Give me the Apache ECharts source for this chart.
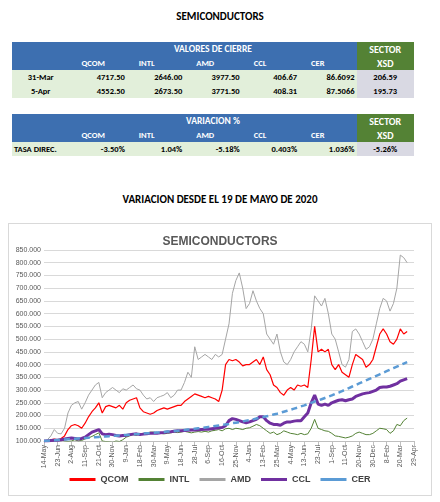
<!DOCTYPE html>
<html><head><meta charset="utf-8">
<script src="https://cdn.jsdelivr.net/npm/echarts@6/dist/echarts.min.js"></script>
<style>
body{margin:0;background:#fff;font-family:Calibri,"Liberation Sans",Carlito,Arial,sans-serif;}
.t{position:absolute;font-weight:bold;color:#000;font-size:11px;text-align:center;width:440px;left:0;}
table{position:absolute;left:12px;border-collapse:collapse;font-size:8.5px;font-weight:bold;width:402px;table-layout:fixed;}
td{height:14px;padding:0 2px;white-space:nowrap;}
.h{background:#3d6fb0;color:#fff;}
.hl{text-align:left;padding-left:12px;}
.s{background:#548235;color:#fff;text-align:center;font-size:10px;}
.d{background:#e2efda;text-align:right;}
.g{background:#d9d9e3;text-align:center;}
#chart{position:absolute;left:8px;top:223px;width:422px;height:271px;border:1px solid #d9d9d9;}
</style></head><body>
<div class="t" style="top:10px">SEMICONDUCTORS</div>
<table id="t1" style="top:42px"></table>
<table id="t2" style="top:114px"></table>
<div class="t" style="top:193px">VARIACION DESDE EL 19 DE MAYO DE 2020</div>
<div id="chart"></div>
<script>
const tickers=["QCOM","INTL","AMD","CCL","CER"];
const closeRows=[["31-Mar","4717.50","2646.00","3977.50","406.67","86.6092","206.59"],["5-Apr","4552.50","2673.50","3771.50","408.31","87.5066","195.73"]];
const varRow=["TASA DIREC.","-3.50%","1.04%","-5.18%","0.403%","1.036%","-5.26%"];
const tickLabels=["14-May","23-Jun","2-Aug","11-Sep","21-Oct","30-Nov","9-Jan","18-Feb","30-Mar","9-May","18-Jun","28-Jul","6-Sep","16-Oct","25-Nov","4-Jan","13-Feb","25-Mar","4-May","13-Jun","23-Jul","1-Sep","11-Oct","20-Nov","30-Dec","8-Feb","20-Mar","29-Apr"];
const QCOM=[100,102,105,108,105,110,120,145,160,165,160,150,170,195,215,230,250,210,235,240,235,230,240,225,250,260,265,270,230,215,210,205,210,220,225,230,225,230,235,240,240,255,265,275,285,280,275,270,275,270,265,255,300,400,420,415,420,410,395,400,400,410,420,400,430,380,360,320,310,290,280,300,310,300,320,315,320,310,420,550,450,460,450,460,400,380,400,370,360,350,400,440,430,420,390,400,420,470,520,540,520,490,480,500,540,520,530];
const INTL=[100,98,97,100,102,105,100,98,100,105,100,102,108,112,118,125,132,100,98,97,95,100,98,105,115,120,125,122,128,130,132,135,135,132,130,128,130,132,135,133,135,138,135,132,135,137,135,138,135,140,142,145,140,148,150,145,150,148,145,150,152,158,165,160,150,140,130,135,125,130,140,135,130,128,125,130,125,128,150,185,150,145,140,138,130,120,118,115,112,115,120,130,135,130,125,125,130,140,150,148,145,130,140,165,160,180,190];
const AMD=[100,105,120,145,130,128,150,210,240,250,255,225,250,280,300,320,330,270,290,300,310,300,290,305,300,310,320,305,300,280,265,270,255,270,275,280,290,270,280,300,300,330,370,350,470,420,430,440,430,420,440,430,440,500,560,680,730,760,700,620,640,690,650,620,600,520,500,480,520,450,410,400,420,450,470,490,480,450,540,670,650,630,660,600,520,500,450,400,390,420,530,540,520,490,460,470,500,560,620,660,650,610,640,700,830,820,800];
const CCL=[100,100,102,103,103,105,108,110,112,110,108,110,115,125,135,140,145,128,125,127,125,122,120,122,122,125,127,128,125,127,128,130,130,130,132,133,135,136,138,140,140,141,142,143,143,144,145,146,146,148,150,152,153,160,180,188,185,180,175,172,175,180,185,195,195,180,170,165,165,162,170,175,175,178,180,180,195,210,250,280,245,240,245,240,250,255,260,262,258,262,265,275,280,285,288,290,295,300,310,312,312,315,320,325,335,340,345];
const CER=[100,101,102,103,104,105,106,107,108,109,110,111,112,113,114,115,116,117,118,119,120,121,122,123,124,125,126,127,128,129,130,131,132,133,134,135,137,138,139,140,142,143,145,146,148,150,151,153,155,157,159,161,163,165,167,170,172,174,177,180,182,185,188,191,194,197,200,204,207,211,215,219,223,227,231,236,240,245,250,255,259,264,269,274,279,285,290,296,302,308,314,320,326,332,338,344,350,356,362,368,374,380,386,392,398,404,410];

function hdr(title){return `<tr><td class="h"></td><td class="h" colspan="5" style="text-align:center;font-size:9.5px">${title}</td><td class="s">SECTOR</td></tr><tr><td class="h"></td>${tickers.map(t=>`<td class="h hl">${t}</td>`).join('')}<td class="s">XSD</td></tr>`;}
function row(r,first){return `<tr><td class="d" style="text-align:${first}">${r[0]}</td>${r.slice(1,6).map(v=>`<td class="d">${v}</td>`).join('')}<td class="g">${r[6]}</td></tr>`;}
document.getElementById('t1').innerHTML=hdr('VALORES DE CIERRE')+closeRows.map(r=>row(r,'center')).join('');
document.getElementById('t2').innerHTML=hdr('VARIACION %')+row(varRow,'left');

const cats=[];for(let i=0;i<=(tickLabels.length-1)*4;i++)cats.push(i%4===0?tickLabels[i/4]:'');
const k=a=>a.map(v=>v*1000);
const fmt=v=>v.toString().replace(/\B(?=(\d{3})+(?!\d))/g,'.')+'';
const c=echarts.init(document.getElementById('chart'));
const mk=(n,d,col,w,dash)=>({name:n,type:'line',data:k(d),symbol:'none',lineStyle:{color:col,width:w,type:dash||'solid'},itemStyle:{color:col}});
c.setOption({
 animation:false,
 title:{text:'SEMICONDUCTORS',left:'center',top:7,textStyle:{color:'#595959',fontSize:12,fontWeight:'bold'}},
 grid:{left:35,right:17,top:26,bottom:54},
 legend:{bottom:6,itemWidth:26,itemHeight:3,icon:'rect',itemGap:10,textStyle:{fontSize:9,fontWeight:'bold',color:'#404040'},
   data:tickers},
 xAxis:{type:'category',data:cats,boundaryGap:false,
   axisLine:{lineStyle:{color:'#bfbfbf'}},axisTick:{interval:3,lineStyle:{color:'#bfbfbf'}},
   axisLabel:{interval:3,rotate:90,fontSize:7,color:'#595959',margin:4}},
 yAxis:{type:'value',min:100000,max:850000,interval:50000,
   axisLabel:{formatter:v=>fmt(v)+'',fontSize:7,color:'#595959',margin:3,formatter:v=>String(v/1000)+'.000'},
   splitLine:{lineStyle:{color:'#d9d9d9'}}},
 series:[mk('AMD',AMD,'#a5a5a5',1),mk('QCOM',QCOM,'#ff0000',1.2),mk('INTL',INTL,'#548235',1),mk('CCL',CCL,'#7030a0',3),mk('CER',CER,'#5b9bd5',2.5,[6,4])]
});
</script></body></html>
